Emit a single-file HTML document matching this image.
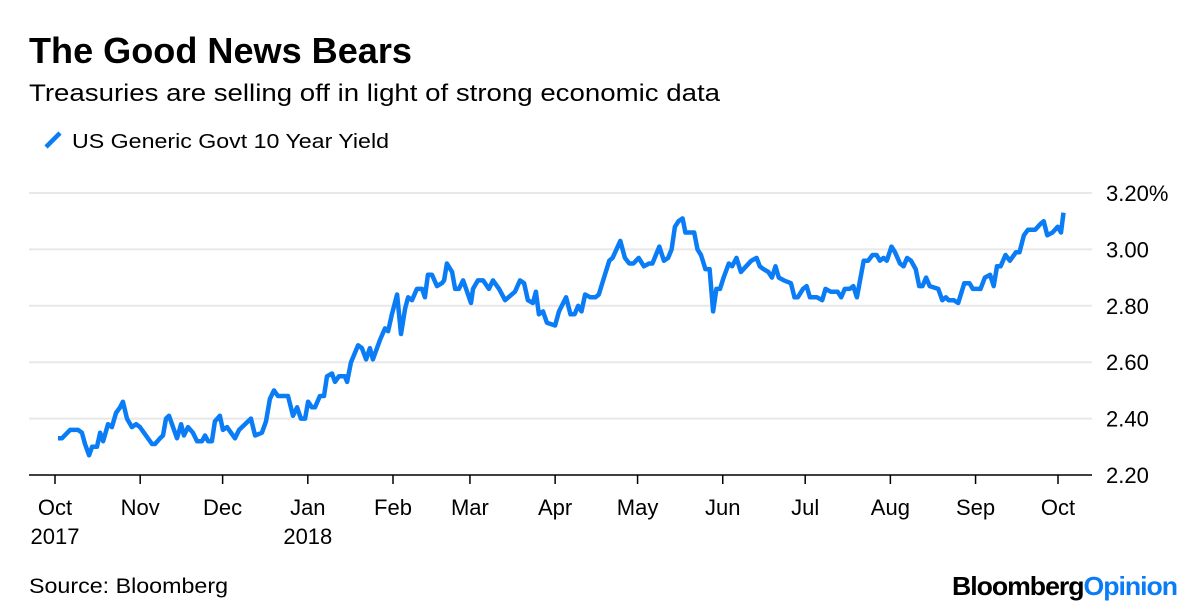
<!DOCTYPE html>
<html><head><meta charset="utf-8"><style>
html,body{margin:0;padding:0;background:#fff;}
svg{display:block;font-family:"Liberation Sans",Arial,sans-serif;}
</style></head><body>
<svg id="chart" width="1200" height="612" viewBox="0 0 1200 612" xmlns="http://www.w3.org/2000/svg">
<text x="29" y="63" font-size="36" font-weight="bold" fill="#000" textLength="383" lengthAdjust="spacingAndGlyphs">The Good News Bears</text>
<text x="29" y="101" font-size="24" fill="#000" textLength="691" lengthAdjust="spacingAndGlyphs">Treasuries are selling off in light of strong economic data</text>
<g>
<line x1="46" y1="147" x2="60" y2="133" stroke="#0a7cf5" stroke-width="4.5" stroke-linecap="butt"/>
<text x="72" y="148" font-size="20" fill="#000" textLength="317" lengthAdjust="spacingAndGlyphs">US Generic Govt 10 Year Yield</text>
</g>
<g id="grid"></g>
<g id="yaxis"></g>
<g id="xaxis"></g>
<g id="series"></g>
<text x="29" y="593" font-size="21" fill="#000" textLength="199" lengthAdjust="spacingAndGlyphs">Source: Bloomberg</text>
<text x="952" y="595" font-size="26" font-weight="bold" textLength="225" lengthAdjust="spacingAndGlyphs" letter-spacing="-1"><tspan fill="#000">Bloomberg</tspan><tspan fill="#0a7cf5">Opinion</tspan></text>
</svg>
<script>
const yTicks = [2.2, 2.4, 2.6, 2.8, 3.0, 3.2];
const yTickLabels = ["2.20", "2.40", "2.60", "2.80", "3.00", "3.20%"];
const monthDays = [0, 31, 61, 92, 123, 151, 182, 212, 243, 273, 304, 335, 365];
const monthLabels = ["Oct", "Nov", "Dec", "Jan", "Feb", "Mar", "Apr", "May", "Jun", "Jul", "Aug", "Sep", "Oct"];
const yearLabels = ["2017", "", "", "2018", "", "", "", "", "", "", "", "", ""];
const days = [1.1,2.5,5.5,8.4,9.8,10.9,12.4,13.5,15.3,16.4,17.5,19.3,20.7,22.2,23.7,24.7,26.2,28.0,29.5,30.9,35.3,36.4,38.2,39.3,40.4,41.5,44.4,45.9,46.9,48.4,50.2,51.7,53.5,54.6,55.7,57.1,58.2,60.0,61.1,62.6,65.5,67.0,71.3,72.8,75.3,76.8,78.2,79.7,81.1,84.8,86.6,88.1,89.5,91.0,92.1,93.5,94.6,96.4,97.9,99.0,100.8,101.9,103.3,105.5,106.3,107.7,110.3,111.7,113.2,114.6,115.7,118.3,120.1,121.2,122.6,124.5,125.9,127.4,128.5,129.9,131.7,133.6,134.6,135.7,137.2,139.0,140.8,141.6,142.6,144.5,145.6,147.0,148.5,149.6,151.4,152.1,153.9,155.8,157.9,159.4,161.6,163.8,167.4,169.2,170.7,172.1,173.9,175.0,176.1,177.6,179.0,182.0,183.4,186.0,187.6,189.1,190.4,191.6,192.9,194.8,196.7,197.9,199.8,201.7,202.9,205.7,207.4,209.0,210.5,212.4,214.3,216.2,217.4,219.9,221.6,223.1,224.4,225.6,226.9,228.4,229.4,232.6,233.8,235.1,236.7,238.2,239.5,240.7,242.0,243.3,245.2,246.4,248.0,249.6,251.5,253.4,255.3,256.5,257.8,259.6,260.9,262.2,263.4,265.3,267.8,269.1,270.3,272.2,273.5,274.7,277.3,279.2,280.4,282.3,284.8,286.1,287.4,289.2,290.5,291.8,294.3,295.9,297.5,299.0,300.2,301.5,302.7,304.4,305.7,307.5,308.8,310.1,311.5,313.2,314.5,315.7,317.0,318.3,321.4,322.9,324.2,325.2,327.1,328.7,330.9,332.8,334.0,336.8,338.4,340.3,341.6,342.8,344.1,345.9,347.5,349.7,351.0,352.6,354.1,356.7,358.6,359.8,361.1,363.0,364.9,366.1,367.0];
const yields = [2.33,2.33,2.36,2.36,2.35,2.31,2.27,2.30,2.30,2.35,2.32,2.38,2.37,2.42,2.44,2.46,2.40,2.37,2.38,2.37,2.31,2.31,2.33,2.34,2.40,2.41,2.33,2.38,2.34,2.37,2.35,2.32,2.32,2.34,2.32,2.32,2.39,2.41,2.36,2.37,2.33,2.36,2.40,2.34,2.35,2.39,2.47,2.50,2.48,2.48,2.41,2.44,2.40,2.40,2.46,2.44,2.44,2.48,2.48,2.55,2.56,2.53,2.55,2.55,2.53,2.60,2.66,2.65,2.61,2.65,2.61,2.68,2.72,2.71,2.77,2.84,2.70,2.79,2.83,2.82,2.86,2.86,2.83,2.91,2.91,2.87,2.88,2.89,2.95,2.92,2.86,2.86,2.89,2.86,2.81,2.86,2.89,2.89,2.86,2.89,2.86,2.82,2.85,2.89,2.88,2.82,2.81,2.85,2.77,2.78,2.74,2.73,2.78,2.83,2.77,2.77,2.80,2.78,2.84,2.83,2.83,2.84,2.90,2.96,2.97,3.03,2.97,2.95,2.95,2.97,2.94,2.95,2.95,3.01,2.96,2.97,3.00,3.08,3.10,3.11,3.06,3.06,3.00,2.98,2.93,2.93,2.78,2.86,2.86,2.90,2.95,2.94,2.97,2.92,2.94,2.96,2.97,2.94,2.93,2.92,2.90,2.94,2.90,2.89,2.88,2.83,2.83,2.86,2.87,2.83,2.83,2.82,2.86,2.85,2.85,2.83,2.86,2.86,2.87,2.83,2.96,2.96,2.98,2.98,2.96,2.97,2.96,3.01,2.99,2.95,2.94,2.97,2.96,2.93,2.87,2.87,2.90,2.87,2.86,2.82,2.83,2.82,2.82,2.81,2.88,2.88,2.86,2.86,2.90,2.91,2.87,2.94,2.94,2.98,2.96,2.99,2.99,3.05,3.07,3.07,3.09,3.10,3.05,3.06,3.08,3.06,3.13];

const NS = "http://www.w3.org/2000/svg";
const xScale = d => 55 + d * (1058 - 55) / 365;
const yScale = v => 475 - (v - 2.2) * 282;
function mk(tag, attrs, parent) {
  const el = document.createElementNS(NS, tag);
  for (const k in attrs) el.setAttribute(k, attrs[k]);
  parent.appendChild(el);
  return el;
}
const grid = document.getElementById('grid');
const yaxis = document.getElementById('yaxis');
const xaxis = document.getElementById('xaxis');
const series = document.getElementById('series');

yTicks.forEach((t, i) => {
  if (i > 0) {
    const g = mk('line', {x1: 29, x2: 1092, y1: yScale(t), y2: yScale(t), stroke: '#e8e8e8', 'stroke-width': 2}, grid);
    
    
  }
  const tx = mk('text', {x: 1106, y: yScale(t) + 8, 'font-size': 22, fill: '#000'}, yaxis);
  tx.textContent = yTickLabels[i];
  
  
});

const axl = mk('line', {x1: 29, x2: 1092, y1: 475, y2: 475, stroke: '#000', 'stroke-width': 1.5}, xaxis);


monthDays.forEach((d, i) => {
  const x = xScale(d);
  const tk = mk('line', {x1: x, x2: x, y1: 475, y2: 484, stroke: '#000', 'stroke-width': 1.5}, xaxis);
  
  
  const ml = mk('text', {x: x, y: 515, 'font-size': 22, 'text-anchor': 'middle', fill: '#000'}, xaxis);
  ml.textContent = monthLabels[i];
  
  
  if (yearLabels[i]) {
    const yl = mk('text', {x: x, y: 544, 'font-size': 22, 'text-anchor': 'middle', fill: '#000'}, xaxis);
    yl.textContent = yearLabels[i];
    
    
  }
});

const dStr = days.map((d, i) => (i ? 'L' : 'M') + xScale(d).toFixed(1) + ',' + yScale(yields[i]).toFixed(1)).join(' ');
const path = mk('path', {d: dStr, fill: 'none', stroke: '#0a7cf5', 'stroke-width': 4.5, 'stroke-linejoin': 'round', 'stroke-linecap': 'butt'}, series);


</script>
</body></html>
